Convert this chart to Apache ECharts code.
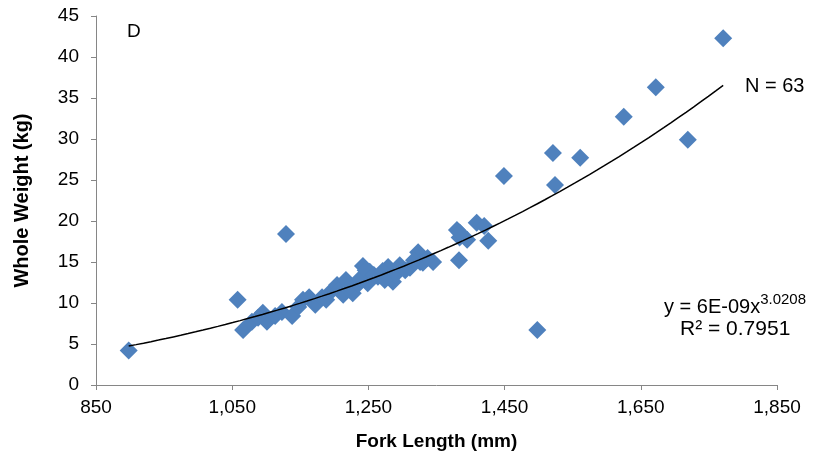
<!DOCTYPE html>
<html>
<head>
<meta charset="utf-8">
<script src="https://cdn.jsdelivr.net/npm/echarts@6/dist/echarts.min.js"></script>
<style>html,body{margin:0;padding:0;background:#fff;}#c{width:832px;height:460px;}</style>
</head>
<body>
<div id="c"></div>
<script>
// Fork length (mm)
var forkLength = [898,1058,1066,1079,1095,1101,1123,1138,1129,1154,1163,1172,1182,1194,1204,1208,1213,1217,1227,1242,1249,1252,1264,1279,1286,1289,
  1296,1311,1323,1326,1330,1345,1337,1380,1384,1383,1395,1409,1420,1426,
  1449,1498,1521,1524,1561,1625,1672,1719,1771,
  1088,1113,1147,1188,1223,1235,1238,1246,1258,1271,1304,1317,1384,1274];
// Whole weight (kg)
var wholeWeight = [4.2,10.4,6.7,7.7,8.8,7.7,8.9,8.4,18.4,10.4,10.7,9.8,10.7,11.3,12.2,11.6,11.0,12.8,11.2,14.5,12.4,13.8,13.2,14.4,12.6,13.4,
  14.6,14.3,16.2,15.0,14.9,15.0,15.5,18.9,18.0,15.2,17.7,19.8,19.4,17.6,
  25.5,6.7,28.3,24.4,27.7,32.7,36.3,29.9,42.3,
  8.2,8.4,9.5,10.4,12.0,12.3,13.0,14.0,13.4,13.9,14.0,15.2,18.6,12.8];
var xTicks = [850,1050,1250,1450,1650,1850];
var yTicks = [0,5,10,15,20,25,30,35,40,45];

var pts = forkLength.map(function(x,i){return [x, wholeWeight[i]];});

// power trendline fitted to the data (least squares in log-log space)
var n = pts.length, sx=0, sy=0, sxx=0, sxy=0;
pts.forEach(function(p){var lx=Math.log(p[0]), ly=Math.log(p[1]); sx+=lx; sy+=ly; sxx+=lx*lx; sxy+=lx*ly;});
var b = (n*sxy - sx*sy)/(n*sxx - sx*sx);
var a = Math.exp((sy - b*sx)/n);
var xmin = Math.min.apply(null, forkLength), xmax = Math.max.apply(null, forkLength);
var trend = [];
for (var i=0;i<=80;i++){ var x = xmin + (xmax-xmin)*i/80; trend.push([x, a*Math.pow(x,b)]); }

var chart = echarts.init(document.getElementById('c'));
var font = '"Liberation Sans", Arial, sans-serif';
var axisLine = {lineStyle:{color:'#868686', width:1}};
chart.setOption({
  animation:false,
  grid:{left:96, right:55, top:16, bottom:75},
  xAxis:{type:'value', min:xTicks[0], max:xTicks[xTicks.length-1], interval:200,
    axisLine:axisLine, axisTick:{show:true, length:5, lineStyle:{color:'#868686'}},
    splitLine:{show:false},
    axisLabel:{color:'#000', fontSize:19, fontFamily:font, margin:13,
      formatter:function(v){return v.toLocaleString('en-US');}},
    name:'Fork Length (mm)', nameLocation:'middle', nameGap:47,
    nameTextStyle:{color:'#000', fontSize:19, fontWeight:'bold', fontFamily:font}},
  yAxis:{type:'value', min:yTicks[0], max:yTicks[yTicks.length-1], interval:5,
    axisLine:Object.assign({show:true}, axisLine), axisTick:{show:true, length:5, lineStyle:{color:'#868686'}},
    splitLine:{show:false},
    axisLabel:{color:'#000', fontSize:19, fontFamily:font, margin:17},
    name:'Whole Weight (kg)', nameLocation:'middle', nameGap:64,
    nameTextStyle:{color:'#000', fontSize:20, fontWeight:'bold', fontFamily:font}},
  series:[
    {type:'scatter', data:pts, symbol:'diamond', symbolSize:18,
      itemStyle:{color:'#4F81BD', opacity:1}, z:2},
    {type:'line', data:trend, showSymbol:false, symbol:'none', smooth:false,
      lineStyle:{color:'#000', width:1.5}, z:3, silent:true}
  ],
  graphic:[
    {type:'text', left:127, top:22, style:{text:'D', font:'19px '+font, fill:'#000'}},
    {type:'text', left:745, top:76, style:{text:'N = 63', font:'20px '+font, fill:'#000'}},
    {type:'text', left:664, top:292, style:{
      text:'{b|y = 6E-09x}{s|3.0208}', fill:'#000',
      rich:{b:{fontSize:20, fontFamily:font, verticalAlign:'bottom', lineHeight:25},
            s:{fontSize:15, fontFamily:font, verticalAlign:'top', lineHeight:25, padding:[0,0,9,0]}}}},
    {type:'text', left:680, top:319, style:{text:'R² = 0.7951', font:'21px '+font, fill:'#000'}}
  ]
});
</script>
</body>
</html>
